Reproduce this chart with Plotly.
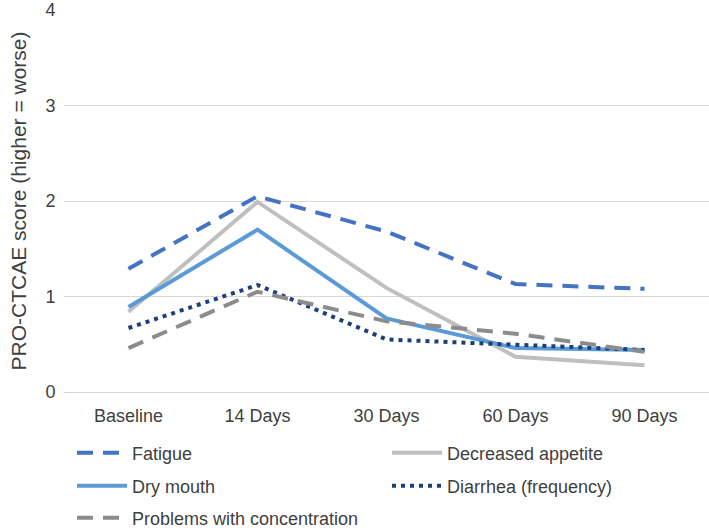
import plotly.graph_objects as go

categories = ["Baseline", "14 Days", "30 Days", "60 Days", "90 Days"]
fatigue = [1.29, 2.05, 1.68, 1.13, 1.08]
decreased_appetite = [0.84, 1.99, 1.09, 0.37, 0.28]
dry_mouth = [0.89, 1.70, 0.77, 0.46, 0.44]
diarrhea = [0.67, 1.12, 0.55, 0.49, 0.44]
concentration = [0.46, 1.05, 0.74, 0.61, 0.42]
y_ticks = [0, 1, 2, 3, 4]

# (name, values, colour, dash, legend id)
series = [
    ("Fatigue", fatigue, "#4472C4", "16px,10px", "legend"),
    ("Decreased appetite", decreased_appetite, "#BFBFBF", "solid", "legend"),
    ("Dry mouth", dry_mouth, "#5B9BD5", "solid", "legend2"),
    ("Diarrhea (frequency)", diarrhea, "#1F3F7A", "4px,5px", "legend2"),
    ("Problems with concentration", concentration, "#8C8C8C", "16px,10px", "legend3"),
]

fig = go.Figure()
for name, vals, color, dash, leg in series:
    fig.add_trace(go.Scatter(
        x=categories, y=vals, name=name, mode="lines",
        line=dict(color=color, width=4, dash=dash),
        legend=leg,
    ))

FAM = "Liberation Sans, Arial, sans-serif"
font = dict(family=FAM, size=18, color="#404040")
W, H = 709, 531
plot_top, plot_bottom = 10, 392


def make_legend(py):
    return dict(
        orientation="h", xref="container", yref="container",
        x=72 / W, xanchor="left", y=1 - py / H, yanchor="middle",
        entrywidth=250, entrywidthmode="pixels", itemwidth=50,
        font=font, bgcolor="rgba(0,0,0,0)",
    )


fig.update_layout(
    width=W, height=H,
    margin=dict(l=64, r=0, t=plot_top, b=H - plot_bottom, autoexpand=False),
    paper_bgcolor="white", plot_bgcolor="white",
    font=font,
    showlegend=True,
    legend=make_legend(453),
    legend2=make_legend(486),
    legend3=make_legend(518),
    xaxis=dict(
        type="category", showgrid=False, zeroline=False,
        showline=False, ticks="outside", ticklen=7, tickcolor="rgba(0,0,0,0)",
        tickfont=font, range=[-0.5, 4.5],
    ),
    yaxis=dict(
        range=[0, 4], tickvals=y_ticks, showgrid=True, gridcolor="#D9D9D9",
        gridwidth=1.3, zeroline=True, zerolinecolor="#D9D9D9", zerolinewidth=1.3,
        ticks="outside", ticklen=4, tickcolor="rgba(0,0,0,0)",
        tickfont=font,
        title=dict(text="PRO-CTCAE score (higher = worse)",
                   font=dict(family=FAM, size=21, color="#404040"), standoff=13),
    ),
)

fig.write_html(
    "out.html",
    config={"displayModeBar": False},
    post_script="document.body.style.margin='0';document.body.style.padding='0';",
)
